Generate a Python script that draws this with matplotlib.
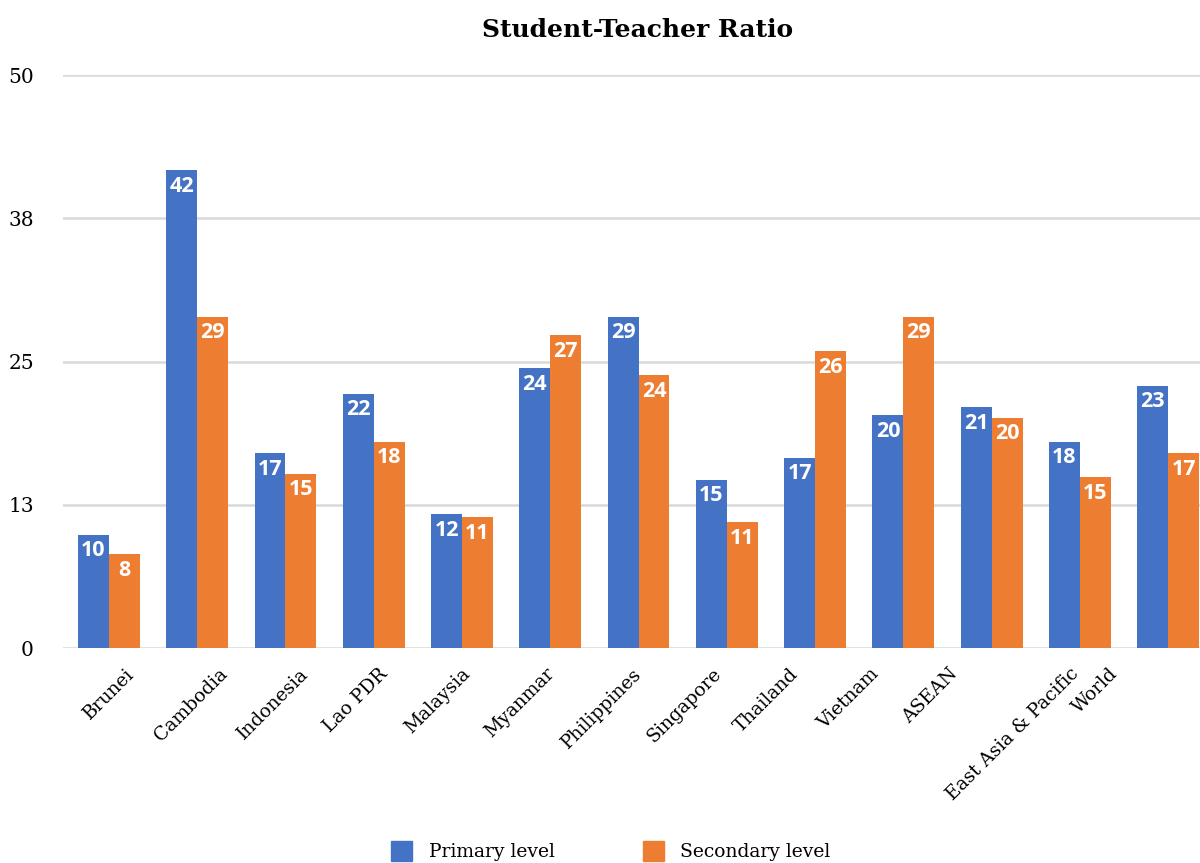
import numpy as np
import matplotlib
matplotlib.use("Agg")
import matplotlib.pyplot as plt
from matplotlib.patches import Patch
from matplotlib.transforms import ScaledTranslation

# data
countries = ["Brunei", "Cambodia", "Indonesia", "Lao PDR", "Malaysia", "Myanmar",
             "Philippines", "Singapore", "Thailand", "Vietnam", "ASEAN",
             "East Asia & Pacific", "World"]
primary = [9.9, 41.7, 17.0, 22.2, 11.7, 24.4, 28.9, 14.7, 16.6, 20.3, 21.0, 18.0, 22.9]
secondary = [8.2, 28.9, 15.2, 18.0, 11.4, 27.3, 23.8, 11.0, 25.9, 28.9, 20.1, 14.9, 17.0]
y_ticks = [0, 12.5, 25, 37.5, 50]
y_tick_labels = ["0", "13", "25", "38", "50"]

BLUE = "#4472C4"
ORANGE = "#ED7D31"
SERIF = "DejaVu Serif"

fig = plt.figure(figsize=(12, 8.63), dpi=100)
ax = fig.add_axes([0.0525, 0.249, 0.9475, 0.664])

x = np.arange(len(countries))
w = 0.35
b1 = ax.bar(x - w / 2, primary, w, color=BLUE, label="Primary level", zorder=2)
b2 = ax.bar(x + w / 2, secondary, w, color=ORANGE, label="Secondary level", zorder=2)

for bars in (b1, b2):
    for rect in bars:
        h = rect.get_height()
        ax.annotate(f"{h:.0f}", (rect.get_x() + rect.get_width() / 2, h),
                    xytext=(0, -4), textcoords="offset points",
                    ha="center", va="top", color="white",
                    fontsize=15.5, fontweight="bold", family="Open Sans", zorder=3)

ax.set_xlim(-0.52, 12.36)
ax.set_ylim(0, 50)
ax.set_yticks(y_ticks)
ax.set_yticklabels(y_tick_labels, family=SERIF, fontsize=14.5)
ax.yaxis.grid(True, color="#D9D9D9", linewidth=1.8, zorder=0)
ax.tick_params(axis="y", length=0, pad=21)

ax.set_xticks(x)
ax.set_xticklabels(countries, rotation=45, ha="center", va="top",
                   family=SERIF, fontsize=13.5)
ax.tick_params(axis="x", length=0, pad=12)
# Excel drifts the rotated labels slightly left across the axis
for i, lbl in enumerate(ax.get_xticklabels()):
    lbl.set_transform(lbl.get_transform() +
                      ScaledTranslation(-0.061 * i, 0, fig.dpi_scale_trans))

for s in ax.spines.values():
    s.set_visible(False)

fig.text(638 / 1200, 1 - 30 / 863, "Student-Teacher Ratio", ha="center", va="center",
         family=SERIF, fontweight="bold", fontsize=18)

handles = [Patch(color=BLUE), Patch(color=ORANGE)]
fig.legend(handles, ["Primary level", "Secondary level"], loc="center",
           bbox_to_anchor=(611 / 1200, 1 - 851 / 863), ncol=2, frameon=False,
           prop={"family": SERIF, "size": 13.5}, handlelength=1.1, handleheight=1.3,
           columnspacing=4.7, handletextpad=0.9)

fig.savefig("out.png", dpi=100)
